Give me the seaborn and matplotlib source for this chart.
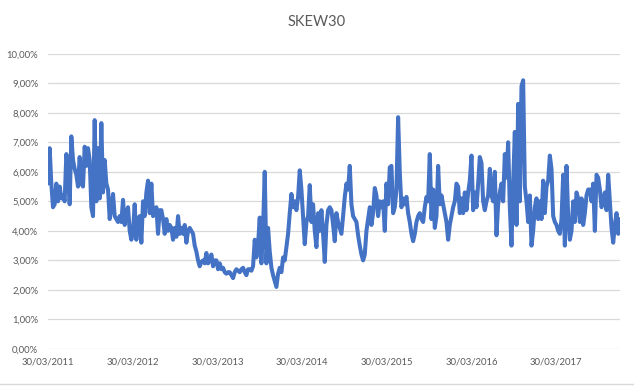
import numpy as np
import pandas as pd

import seaborn as sns
import matplotlib
matplotlib.use("Agg")
import matplotlib.pyplot as plt
import matplotlib.dates as mdates
from matplotlib.ticker import FuncFormatter, MultipleLocator
from matplotlib.lines import Line2D

# SKEW30 values in %, evenly spaced in time
start_date = "2011-03-30"
end_date = "2017-12-29"
skew30 = [
    5.6, 6.8, 5.6, 4.8, 4.9, 5.6, 5.0, 5.5, 5.1, 5.2, 5.0, 6.6, 6.1, 4.9, 7.2, 6.4,
    6.1, 5.9, 5.5, 6.5, 5.6, 5.5, 6.85, 6.2, 6.8, 6.4, 4.8, 4.5, 7.75, 5.0, 6.8, 5.1,
    7.65, 5.3, 6.4, 5.6, 5.4, 4.4, 4.8, 5.25, 4.5, 4.4, 4.3, 4.5, 4.3, 5.05, 4.2, 4.6,
    4.8, 4.0, 3.7, 4.0, 4.9, 3.7, 4.4, 4.5, 3.6, 5.0, 4.5, 5.3, 5.7, 4.6, 5.6, 4.5,
    4.6, 4.8, 3.9, 4.7, 4.7, 4.4, 3.9, 4.4, 4.0, 4.2, 4.1, 3.7, 4.1, 3.8, 4.5, 3.9,
    4.1, 3.9, 4.2, 3.6, 4.0, 4.1, 4.0, 3.9, 3.5, 3.3, 3.0, 2.8, 2.95, 3.0, 2.9, 3.25,
    2.9, 3.0, 3.2, 2.8, 3.0, 3.0, 2.7, 2.9, 2.7, 2.75, 2.6, 2.55, 2.6, 2.6, 2.5, 2.4,
    2.6, 2.7, 2.65, 2.6, 2.7, 2.75, 2.6, 2.5, 2.7, 2.7, 2.65, 2.8, 3.7, 3.1, 3.55, 4.45,
    2.9, 4.1, 6.0, 2.9, 4.1, 3.3, 2.75, 2.5, 2.3, 2.1, 2.55, 2.75, 2.6, 3.1, 3.0, 3.45,
    3.9, 4.6, 5.25, 4.8, 5.0, 4.7, 5.15, 6.05, 5.4, 4.5, 3.55, 4.3, 4.5, 5.55, 4.3, 4.9,
    4.0, 3.45, 4.6, 4.0, 4.7, 3.9, 2.95, 4.2, 4.7, 4.8, 4.7, 4.2, 3.65, 4.6, 4.3, 4.1,
    3.9, 4.5, 5.15, 5.6, 5.4, 6.2, 4.9, 4.5, 4.4, 4.3, 3.85, 3.5, 3.2, 3.0, 3.2, 4.0,
    4.4, 4.8, 4.2, 4.6, 5.45, 5.2, 4.5, 5.0, 4.8, 5.0, 4.0, 5.6, 4.9, 6.15, 6.2, 4.6,
    4.8, 5.4, 7.85, 6.0, 4.8, 5.1, 4.9, 5.15, 4.6, 4.3, 3.9, 3.65, 3.9, 4.3, 4.5, 4.6,
    4.4, 4.3, 4.8, 5.15, 5.0, 6.6, 4.4, 5.4, 4.1, 4.5, 6.2, 4.9, 5.2, 4.9, 4.6, 4.3,
    3.7, 4.2, 4.5, 4.8, 5.0, 5.6, 5.5, 4.6, 5.1, 4.6, 5.3, 4.7, 5.3, 5.7, 6.55, 4.7,
    5.3, 4.8, 5.6, 6.5, 6.3, 5.0, 4.7, 5.0, 5.2, 6.1, 5.2, 5.0, 6.0, 3.85, 4.9, 5.3,
    5.6, 5.0, 6.6, 5.8, 7.0, 4.8, 3.5, 5.6, 7.35, 4.2, 8.3, 5.0, 8.9, 9.1, 5.5, 5.0,
    4.3, 5.2, 3.5, 4.0, 4.8, 5.1, 4.4, 5.0, 4.4, 5.7, 4.6, 5.5, 5.7, 6.55, 6.1, 4.5,
    4.3, 4.2, 4.0, 3.9, 4.4, 5.9, 3.5, 6.2, 4.5, 3.7, 4.0, 5.0, 4.3, 5.3, 5.1, 4.3,
    5.1, 4.2, 4.6, 5.2, 5.4, 5.4, 5.0, 5.6, 4.0, 5.9, 5.8, 5.4, 4.8, 5.0, 5.3, 4.7,
    5.9, 5.0, 4.1, 3.6, 4.2, 4.6, 3.9, 4.4,
]
tick_years = [2011, 2012, 2013, 2014, 2015, 2016, 2017]

df = pd.DataFrame({
    "date": pd.date_range(start_date, end_date, periods=len(skew30)),
    "skew": skew30,
})

sns.set_style("white")
plt.rcParams["font.family"] = ["Lato", "DejaVu Sans"]

fig = plt.figure(figsize=(6.34, 3.86), dpi=100)
ax = fig.add_axes([0.0757, 0.0959, 0.902, 0.765])

sns.lineplot(data=df, x="date", y="skew", ax=ax, color="#4472C4", linewidth=2.9)

ax.set_ylim(0, 10)
ax.set_xlim(df["date"].iloc[0], df["date"].iloc[-1])
ax.yaxis.set_major_locator(MultipleLocator(1))
ax.yaxis.set_major_formatter(FuncFormatter(lambda v, p: f"{v:.2f}%".replace(".", ",")))
ax.set_xticks([pd.Timestamp(f"{y}-03-30") for y in tick_years])
ax.xaxis.set_major_formatter(mdates.DateFormatter("%d/%m/%Y"))

ax.grid(axis="y", color="#d9d9d9", linewidth=0.9)
ax.set_axisbelow(True)
for s in ax.spines.values():
    s.set_visible(False)
ax.tick_params(axis="both", length=0, labelsize=6.8, labelcolor="#595959")
ax.tick_params(axis="y", pad=7)
ax.tick_params(axis="x", pad=6)
ax.set_xlabel("")
ax.set_ylabel("")

fig.suptitle("SKEW30", x=0.5, y=0.96, fontsize=10.5, color="#595959")
fig.add_artist(Line2D([0, 1], [0.006, 0.006], transform=fig.transFigure,
                      color="#d9d9d9", linewidth=1))

fig.savefig("out.png", dpi=100)
